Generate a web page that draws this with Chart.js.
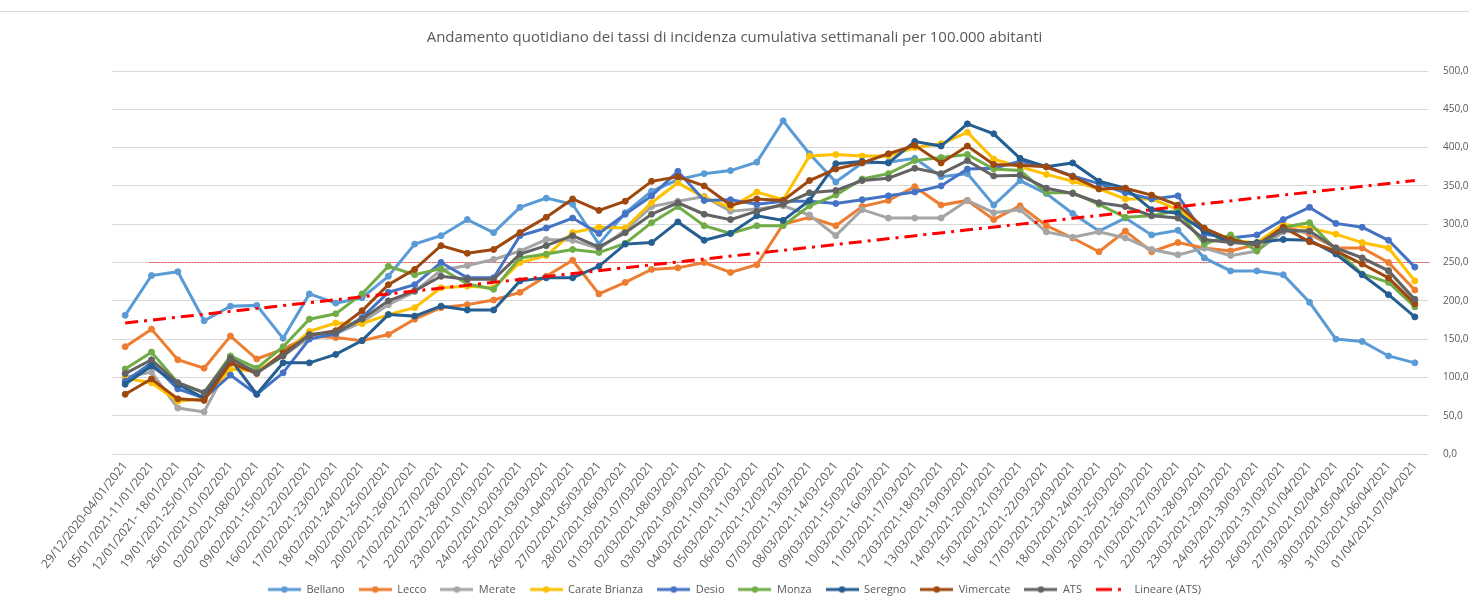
<!DOCTYPE html>
<html lang="it">
<head>
<meta charset="utf-8">
<title>Tassi di incidenza cumulativa settimanali</title>
<script src="https://cdn.jsdelivr.net/npm/chart.js@4.4.1/dist/chart.umd.min.js"></script>
<style>
  html, body { margin: 0; padding: 0; background: #fff; }
  #wrap { position: relative; width: 1469px; height: 609px; }
  #riga { position: absolute; left: 0; top: 11px; width: 1469px; height: 1px; background: #d9d9d9; }
</style>
</head>
<body>
<div id="wrap">
  <div id="riga"></div>
  <canvas id="grafico" width="1469" height="609"></canvas>
</div>
<script>
const settimane = [
  "29/12/2020-04/01/2021", "05/01/2021-11/01/2021", "12/01/2021- 18/01/2021", "19/01/2021-25/01/2021",
  "26/01/2021-01/02/2021", "02/02/2021-08/02/2021", "09/02/2021-15/02/2021", "16/02/2021-22/02/2021",
  "17/02/2021-23/02/2021", "18/02/2021-24/02/2021", "19/02/2021-25/02/2021", "20/02/2021-26/02/2021",
  "21/02/2021-27/02/2021", "22/02/2021-28/02/2021", "23/02/2021-01/03/2021", "24/02/2021-02/03/2021",
  "25/02/2021-03/03/2021", "26/02/2021-04/03/2021", "27/02/2021-05/03/2021", "28/02/2021-06/03/2021",
  "01/03/2021-07/03/2021", "02/03/2021-08/03/2021", "03/03/2021-09/03/2021", "04/03/2021-10/03/2021",
  "05/03/2021-11/03/2021", "06/03/2021-12/03/2021", "07/03/2021-13/03/2021", "08/03/2021-14/03/2021",
  "09/03/2021-15/03/2021", "10/03/2021-16/03/2021", "11/03/2021-17/03/2021", "12/03/2021-18/03/2021",
  "13/03/2021-19/03/2021", "14/03/2021-20/03/2021", "15/03/2021-21/03/2021", "16/03/2021-22/03/2021",
  "17/03/2021-23/03/2021", "18/03/2021-24/03/2021", "19/03/2021-25/03/2021", "20/03/2021-26/03/2021",
  "21/03/2021-27/03/2021", "22/03/2021-28/03/2021", "23/03/2021-29/03/2021", "24/03/2021-30/03/2021",
  "25/03/2021-31/03/2021", "26/03/2021-01/04/2021", "27/03/2021-02/04/2021", "30/03/2021-05/04/2021",
  "31/03/2021-06/04/2021", "01/04/2021-07/04/2021"
];

const bellano = [181, 233, 238, 174, 193, 194, 151, 209, 197, 204, 232, 274, 285, 306, 289, 322, 334, 326, 274, 315,
  343, 358, 366, 370, 381, 435, 392, 355, 380, 381, 386, 362, 366, 325, 357, 340, 314, 291, 308, 286,
  292, 256, 239, 239, 234, 198, 150, 147, 128, 119];
const lecco = [140, 163, 123, 112, 154, 124, 137, 154, 152, 148, 156, 176, 191, 195, 201, 211, 232, 253, 209, 224,
  241, 243, 250, 237, 247, 300, 309, 298, 323, 331, 349, 325, 331, 306, 324, 298, 282, 264, 291, 264,
  276, 269, 265, 274, 298, 287, 269, 269, 250, 214];
const merate = [100, 107, 60, 55, 120, 108, 128, 152, 157, 172, 195, 212, 240, 246, 254, 265, 280, 279, 268, 292,
  323, 330, 336, 317, 320, 324, 312, 285, 319, 308, 308, 308, 331, 315, 319, 290, 283, 290, 282, 267,
  260, 269, 259, 265, 290, 290, 269, 256, 240, 200];
const carateBrianza = [99, 93, 69, 72, 111, 108, 130, 160, 171, 170, 182, 191, 217, 219, 217, 250, 259, 289, 296, 295,
  328, 354, 335, 322, 342, 332, 389, 391, 389, 389, 400, 405, 420, 385, 375, 365, 356, 346, 333, 333,
  319, 291, 278, 276, 300, 295, 287, 276, 269, 226];
const desio = [95, 119, 85, 73, 103, 78, 106, 150, 157, 178, 211, 221, 250, 230, 230, 285, 295, 308, 288, 313,
  337, 369, 331, 332, 326, 330, 330, 327, 332, 337, 342, 350, 372, 373, 382, 375, 363, 353, 341, 333,
  337, 287, 282, 286, 306, 322, 301, 296, 279, 244];
const monza = [111, 133, 93, 80, 128, 112, 140, 176, 183, 209, 245, 234, 242, 222, 215, 256, 261, 267, 263, 275,
  302, 323, 298, 288, 298, 298, 324, 338, 359, 366, 383, 387, 391, 372, 370, 341, 341, 326, 309, 311,
  318, 274, 286, 265, 296, 302, 267, 235, 224, 192];
const seregno = [91, 115, 91, 73, 124, 78, 119, 119, 130, 148, 182, 180, 193, 188, 188, 226, 230, 230, 245, 274,
  276, 303, 279, 288, 311, 305, 331, 379, 382, 380, 408, 402, 431, 418, 386, 375, 380, 356, 347, 319,
  314, 291, 276, 276, 280, 279, 261, 234, 208, 179];
const vimercate = [78, 98, 72, 70, 119, 105, 132, 155, 161, 187, 221, 241, 272, 262, 267, 289, 309, 333, 318, 330,
  356, 362, 350, 325, 333, 331, 357, 372, 380, 392, 403, 380, 402, 378, 377, 375, 362, 346, 347, 338,
  325, 295, 280, 273, 296, 277, 265, 248, 230, 196];
const ats = [105, 123, 93, 80, 125, 106, 128, 156, 159, 176, 200, 213, 232, 228, 228, 261, 272, 285, 270, 289,
  313, 328, 313, 306, 317, 326, 341, 344, 357, 360, 373, 366, 383, 363, 364, 347, 340, 328, 323, 311,
  308, 280, 276, 274, 292, 291, 269, 256, 239, 202];
// estremi della linea di tendenza (primo e ultimo periodo)
const lineareAtsEstremi = [171, 357];
const sogliaRiferimento = [250];

const FONT = "'Open Sans', sans-serif";
const GRIGIO = "#595959";
const TRATTEGGIO = [13, 6, 3, 6];

const serie = [
  { label: "Bellano", data: bellano, color: "#5B9BD5" },
  { label: "Lecco", data: lecco, color: "#ED7D31" },
  { label: "Merate", data: merate, color: "#A5A5A5" },
  { label: "Carate Brianza", data: carateBrianza, color: "#FFC000" },
  { label: "Desio", data: desio, color: "#4472C4" },
  { label: "Monza", data: monza, color: "#70AD47" },
  { label: "Seregno", data: seregno, color: "#255E91" },
  { label: "Vimercate", data: vimercate, color: "#9E480E" },
  { label: "ATS", data: ats, color: "#636363" },
];

// piccola icona della legenda: linea con pallino (o tratteggio per la tendenza)
function iconaLegenda(color, dash) {
  const c = document.createElement("canvas");
  c.width = 33;
  c.height = 8;
  const g = c.getContext("2d");
  g.strokeStyle = color;
  g.fillStyle = color;
  g.lineWidth = 3;
  if (dash) g.setLineDash([16, 6, 3, 8]);
  g.beginPath();
  g.moveTo(0, 4);
  g.lineTo(33, 4);
  g.stroke();
  if (!dash) {
    g.beginPath();
    g.arc(16.5, 4, 3.2, 0, Math.PI * 2);
    g.fill();
  }
  return c;
}

const datasets = serie.map((s, i) => ({
  label: s.label,
  data: s.data,
  borderColor: s.color,
  backgroundColor: s.color,
  borderWidth: 3,
  pointRadius: 3,
  pointBorderWidth: 1,
  pointStyle: "circle",
  tension: 0,
  order: 20 - i,
}));

datasets.push({
  label: "Lineare (ATS)",
  data: [
    { x: settimane[0], y: lineareAtsEstremi[0] },
    { x: settimane[settimane.length - 1], y: lineareAtsEstremi[1] },
  ],
  borderColor: "#FF0000",
  backgroundColor: "#FF0000",
  borderWidth: 3,
  borderDash: TRATTEGGIO,
  pointRadius: 0,
  order: 1,
});

// linea rossa sottile di riferimento a 250
const lineaSoglia = {
  id: "lineaSoglia",
  beforeDatasetsDraw(chart) {
    const { ctx, chartArea, scales } = chart;
    const y = scales.y.getPixelForValue(sogliaRiferimento[0]);
    ctx.save();
    ctx.strokeStyle = "rgba(255,0,0,0.65)";
    ctx.lineWidth = 1;
    ctx.setLineDash([2, 1]);
    ctx.beginPath();
    ctx.moveTo(scales.x.getPixelForValue(1) - 2, y);
    ctx.lineTo(chartArea.right + 2, y);
    ctx.stroke();
    ctx.restore();
  },
};

new Chart(document.getElementById("grafico"), {
  type: "line",
  data: { labels: settimane, datasets },
  plugins: [lineaSoglia],
  options: {
    responsive: false,
    animation: false,
    layout: { padding: { left: 0, right: 0, top: 0, bottom: 4 } },
    plugins: {
      title: {
        display: true,
        text: "Andamento quotidiano dei tassi di incidenza cumulativa settimanali per 100.000 abitanti",
        color: GRIGIO,
        font: { family: FONT, size: 15, weight: "normal" },
        padding: { top: 29, bottom: 24 },
      },
      legend: {
        position: "bottom",
        labels: {
          color: GRIGIO,
          font: { family: FONT, size: 11 },
          usePointStyle: true,
          pointStyleWidth: 33,
          boxHeight: 11,
          padding: 14,
          sort: (a, b) => a.datasetIndex - b.datasetIndex,
          generateLabels(chart) {
            const items = Chart.defaults.plugins.legend.labels.generateLabels(chart);
            return items.map((it) => {
              const ds = chart.data.datasets[it.datasetIndex];
              it.pointStyle = iconaLegenda(ds.borderColor, ds.borderDash);
              it.lineDash = [];
              return it;
            });
          },
        },
      },
      tooltip: { enabled: false },
    },
    scales: {
      x: {
        offset: true,
        grid: { display: false, drawTicks: false },
        border: { display: false },
        ticks: {
          color: GRIGIO,
          font: { family: FONT, size: 12 },
          minRotation: 52,
          maxRotation: 52,
          autoSkip: false,
          padding: 5,
        },
        afterFit(scale) { scale.height = 116; },
      },
      y: {
        position: "right",
        min: 0,
        max: 500,
        grid: { color: "#d9d9d9", lineWidth: 1, drawTicks: false },
        border: { display: false },
        ticks: {
          stepSize: 50,
          color: GRIGIO,
          font: { family: FONT, size: 10 },
          padding: 15,
          callback: (v) => v.toFixed(1).replace(".", ","),
        },
        afterFit(scale) { scale.width = 41; },
      },
      // asse vuoto a sinistra, solo per lasciare il margine dell'originale
      margine: {
        position: "left",
        display: true,
        min: 0,
        max: 500,
        grid: { display: false, drawTicks: false },
        border: { display: false },
        ticks: { display: false },
        afterFit(scale) { scale.width = 112; },
      },
    },
  },
});
</script>
</body>
</html>
